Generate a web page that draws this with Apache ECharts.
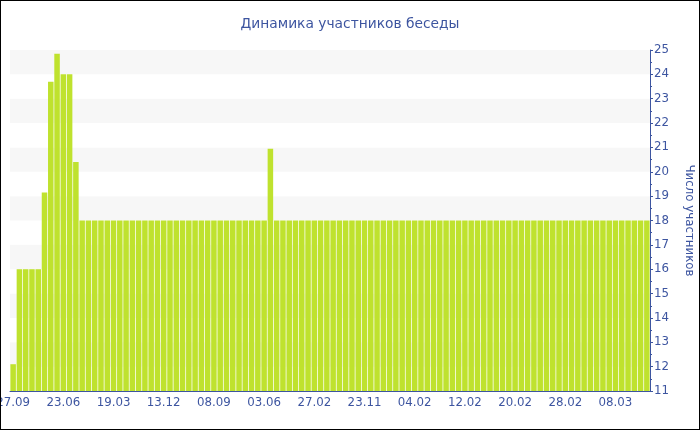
<!DOCTYPE html>
<html>
<head>
<meta charset="utf-8">
<script src="https://cdn.jsdelivr.net/npm/echarts@6/dist/echarts.min.js"></script>
<style>
  html, body { margin: 0; padding: 0; background: #fff; }
  #chart { width: 700px; height: 430px; box-sizing: border-box; border: 1px solid #000; }
</style>
</head>
<body>
<div id="chart"></div>
<script>
// даты (подписи показываются через каждые 8 столбцов)
const dates = [
  '27.09', '15.09', '03.09', '22.08', '10.08', '29.07', '17.07', '05.07', '23.06', '11.06',
  '30.05', '18.05', '06.05', '24.04', '12.04', '31.03', '19.03', '07.03', '23.02', '11.02',
  '30.01', '18.01', '06.01', '25.12', '13.12', '01.12', '19.11', '07.11', '26.10', '14.10',
  '02.10', '20.09', '08.09', '27.08', '15.08', '03.08', '22.07', '10.07', '27.06', '15.06',
  '03.06', '22.05', '10.05', '28.04', '16.04', '04.04', '23.03', '11.03', '27.02', '15.02',
  '03.02', '22.01', '10.01', '29.12', '17.12', '05.12', '23.11', '28.01', '29.01', '30.01',
  '31.01', '01.02', '02.02', '03.02', '04.02', '05.02', '06.02', '07.02', '08.02', '09.02',
  '10.02', '11.02', '12.02', '13.02', '14.02', '15.02', '16.02', '17.02', '18.02', '19.02',
  '20.02', '21.02', '22.02', '23.02', '24.02', '25.02', '26.02', '27.02', '28.02', '01.03',
  '02.03', '03.03', '04.03', '05.03', '06.03', '07.03', '08.03', '09.03', '10.03', '11.03',
  '12.03', '13.03'
];

// число участников
const members = [
  12.1, 16, 16, 16, 16, 19.15, 23.7, 24.85, 24, 24,
  20.4, 18, 18, 18, 18, 18, 18, 18, 18, 18,
  18, 18, 18, 18, 18, 18, 18, 18, 18, 18,
  18, 18, 18, 18, 18, 18, 18, 18, 18, 18,
  18, 20.95, 18, 18, 18, 18, 18, 18, 18, 18,
  18, 18, 18, 18, 18, 18, 18, 18, 18, 18,
  18, 18, 18, 18, 18, 18, 18, 18, 18, 18,
  18, 18, 18, 18, 18, 18, 18, 18, 18, 18,
  18, 18, 18, 18, 18, 18, 18, 18, 18, 18,
  18, 18, 18, 18, 18, 18, 18, 18, 18, 18,
  18, 18
];

const blue = '#3d55a0';
const font = 'DejaVu Sans, Verdana, sans-serif';

const chart = echarts.init(document.getElementById('chart'));

const option = {
  animation: false,
  title: {
    text: 'Динамика участников беседы',
    left: 'center',
    top: 11,
    textStyle: { color: blue, fontFamily: font, fontSize: 13.8, fontWeight: 'normal' }
  },
  grid: { left: 9, right: 49, top: 49, bottom: 38, containLabel: false, outerBoundsMode: 'none' },
  xAxis: {
    type: 'category',
    data: dates,
    boundaryGap: true,
    axisLine: { lineStyle: { color: blue, width: 1 } },
    axisTick: { alignWithLabel: true, interval: 7, length: 4, lineStyle: { color: blue } },
    axisLabel: { interval: 7, color: blue, fontFamily: font, fontSize: 11.8, margin: 6 },
    splitLine: { show: false }
  },
  yAxis: {
    type: 'value',
    position: 'right',
    min: 11,
    max: 25,
    interval: 1,
    name: 'Число участников',
    nameLocation: 'middle',
    nameRotate: -90,
    nameGap: 33,
    nameTextStyle: { color: blue, fontFamily: font, fontSize: 11.8 },
    axisLine: { show: true, lineStyle: { color: blue, width: 1 } },
    axisTick: { show: true, length: 3, lineStyle: { color: blue } },
    minorTick: { show: true, splitNumber: 2, length: 2, lineStyle: { color: blue } },
    axisLabel: { color: blue, fontFamily: font, fontSize: 11.8, margin: 4 },
    splitLine: { show: false },
    splitArea: { show: true, areaStyle: { color: ['#ffffff', '#f7f7f7'] } }
  },
  series: [{
    type: 'bar',
    data: members,
    barCategoryGap: '12%',
    itemStyle: { color: '#bfe22e' }
  }]
};

chart.setOption(option);
</script>
</body>
</html>
